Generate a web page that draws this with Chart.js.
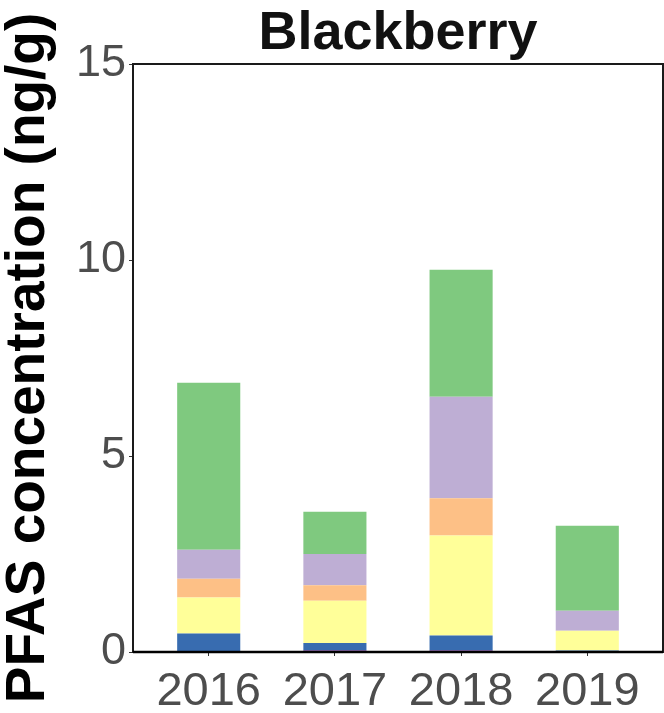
<!DOCTYPE html>
<html>
<head>
<meta charset="utf-8">
<script src="https://cdn.jsdelivr.net/npm/chart.js@4/dist/chart.umd.min.js"></script>
<style>
  html, body { margin: 0; padding: 0; background: #ffffff; }
  #wrap { width: 664px; height: 713px; }
</style>
</head>
<body>
<div id="wrap"><canvas id="c" width="664" height="713"></canvas></div>
<script>
// Sampling years (x categories)
const years = ['2016', '2017', '2018', '2019'];

// PFAS concentration per compound group (ng/g), bottom of stack first
const pinkGroup   = [0.00, 0.03, 0.03, 0.00];
const blueGroup   = [0.47, 0.20, 0.39, 0.04];
const yellowGroup = [0.92, 1.08, 2.55, 0.50];
const orangeGroup = [0.48, 0.39, 0.95, 0.00];
const purpleGroup = [0.74, 0.80, 2.59, 0.51];
const greenGroup  = [4.26, 1.08, 3.24, 2.17];

// Value axis ticks
const yTicks = [0, 5, 10, 15];

const FONT = "'Liberation Sans', Arial, Helvetica, sans-serif";

const toPoints = arr => arr.map((v, i) => ({ x: i, y: v }));

const series = [
  { label: 'Group 6', values: pinkGroup,   color: '#F0027F' },
  { label: 'Group 5', values: blueGroup,   color: '#386CB0' },
  { label: 'Group 4', values: yellowGroup, color: '#FFFF99' },
  { label: 'Group 3', values: orangeGroup, color: '#FDC086' },
  { label: 'Group 2', values: purpleGroup, color: '#BEAED4' },
  { label: 'Group 1', values: greenGroup,  color: '#7FC97F' }
];

// Panel border drawn over the bars, with a heavier baseline
const panelFrame = {
  id: 'panelFrame',
  afterDatasetsDraw(chart) {
    const { ctx, chartArea: a } = chart;
    ctx.save();
    ctx.strokeStyle = '#1a1a1a';
    ctx.lineWidth = 2;
    ctx.strokeRect(a.left, a.top, a.right - a.left, a.bottom - a.top);
    ctx.strokeStyle = '#000000';
    ctx.lineWidth = 2.5;
    ctx.beginPath();
    ctx.moveTo(a.left, a.bottom);
    ctx.lineTo(a.right, a.bottom);
    ctx.stroke();
    ctx.restore();
  }
};

new Chart(document.getElementById('c'), {
  type: 'bar',
  data: {
    datasets: series.map(s => ({
      label: s.label,
      data: toPoints(s.values),
      backgroundColor: s.color,
      borderWidth: 0,
      stack: 'pfas',
      barPercentage: 0.5,
      categoryPercentage: 1.0
    }))
  },
  options: {
    responsive: false,
    animation: false,
    layout: { padding: { left: 0, right: 1, top: 0, bottom: 0 } },
    plugins: {
      legend: { display: false },
      tooltip: { enabled: false },
      title: {
        display: true,
        text: 'Blackberry',
        fullSize: false,
        color: '#111111',
        font: { family: FONT, size: 54, weight: 'bold', lineHeight: '59px' },
        padding: { top: 5, bottom: 0 }
      }
    },
    scales: {
      x: {
        type: 'linear',
        offset: false,
        min: -0.6,
        max: 3.6,
        afterBuildTicks(scale) {
          scale.ticks = years.map((_, i) => ({ value: i }));
        },
        afterFit(scale) { scale.height = 61; },
        grid: {
          display: true,
          offset: false,
          drawOnChartArea: false,
          drawTicks: true,
          tickLength: 4,
          tickColor: '#333333',
          tickWidth: 1
        },
        border: { display: false },
        ticks: {
          color: '#4D4D4D',
          font: { family: FONT, size: 47 },
          padding: 8,
          maxRotation: 0,
          autoSkip: false,
          callback: v => years[v]
        }
      },
      y: {
        stacked: true,
        min: 0,
        max: 15,
        afterBuildTicks(scale) {
          scale.ticks = yTicks.map(v => ({ value: v }));
        },
        afterFit(scale) { scale.width = 133; },
        grid: {
          display: true,
          drawOnChartArea: false,
          drawTicks: true,
          tickLength: 4,
          tickColor: '#333333',
          tickWidth: 1
        },
        border: { display: false },
        ticks: {
          color: '#4D4D4D',
          font: { family: FONT, size: 45 },
          padding: 3
        },
        title: {
          display: true,
          text: 'PFAS concentration (ng/g)',
          color: '#000000',
          font: { family: FONT, size: 55, weight: 'bold', lineHeight: 1 },
          padding: { top: 1, bottom: 0 }
        }
      }
    }
  },
  plugins: [panelFrame]
});
</script>
</body>
</html>
